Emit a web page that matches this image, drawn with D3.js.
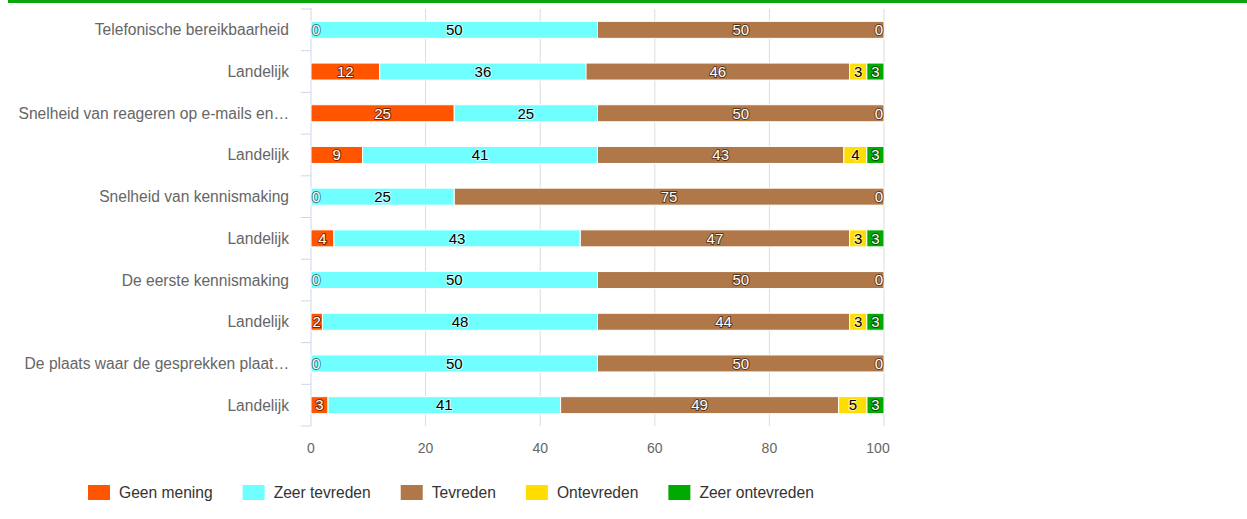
<!DOCTYPE html>
<html>
<head>
<meta charset="utf-8">
<script src="https://cdn.jsdelivr.net/npm/d3@7"></script>
<style>
  body { margin: 0; background: #fff; }
  svg { display: block; font-family: "Liberation Sans", Arial, sans-serif; }
</style>
</head>
<body>
<svg id="chart" width="1247" height="519"></svg>
<script>
// rows, top to bottom
const categories = [
  "Telefonische bereikbaarheid", "Landelijk",
  "Snelheid van reageren op e-mails en…", "Landelijk",
  "Snelheid van kennismaking", "Landelijk",
  "De eerste kennismaking", "Landelijk",
  "De plaats waar de gesprekken plaat…", "Landelijk"
];
const seriesNames = ["Geen mening", "Zeer tevreden", "Tevreden", "Ontevreden", "Zeer ontevreden"];
const seriesColors = ["#ff5500", "#70ffff", "#b07849", "#ffdd00", "#00aa00"];
const geenMening     = [0, 12, 25, 9, 0, 4, 0, 2, 0, 3];
const zeerTevreden   = [50, 36, 25, 41, 25, 43, 50, 48, 50, 41];
const tevreden       = [50, 46, 50, 43, 75, 47, 50, 44, 50, 49];
const ontevreden     = [0, 3, 0, 4, 0, 3, 0, 3, 0, 5];
const zeerOntevreden = [0, 3, 0, 3, 0, 3, 0, 3, 0, 3];
const xTicks = [0, 20, 40, 60, 80, 100];

const seriesValues = [geenMening, zeerTevreden, tevreden, ontevreden, zeerOntevreden];
const darkSeries = [true, false, true, false, true]; // white label text

const svg = d3.select("#chart");
const plot = {left: 311, right: 884, top: 9, bottom: 426};

// top green rule
svg.append("rect").attr("x", 8).attr("y", 0).attr("width", 1239).attr("height", 3).attr("fill", "#0aa50a");

const rows = categories.map((c, i) => {
  const r = {idx: i};
  seriesNames.forEach((s, k) => r[s] = seriesValues[k][i]);
  return r;
});
const stacked = d3.stack().keys(seriesNames).offset(d3.stackOffsetExpand)(rows);

const x = d3.scaleLinear().domain([0, 100]).range([plot.left, plot.right]);
const y = d3.scaleBand().domain(d3.range(categories.length)).range([plot.top, plot.bottom]);
const barH = 17;

// grid
svg.append("g").selectAll("line").data(xTicks.slice(1)).join("line")
  .attr("x1", d => x(d)).attr("x2", d => x(d))
  .attr("y1", plot.top).attr("y2", plot.bottom)
  .attr("stroke", "#dcdcdc").attr("stroke-width", 1);

// category axis
const yAxis = svg.append("g");
yAxis.append("line").attr("x1", plot.left).attr("x2", plot.left)
  .attr("y1", plot.top - 1).attr("y2", plot.bottom).attr("stroke", "#ccd6eb");
yAxis.selectAll("line.tk").data(d3.range(categories.length + 1)).join("line").attr("class", "tk")
  .attr("x1", plot.left - 10).attr("x2", plot.left)
  .attr("y1", d => plot.top + d * y.step()).attr("y2", d => plot.top + d * y.step())
  .attr("stroke", "#ccd6eb");
yAxis.selectAll("text").data(categories).join("text")
  .attr("x", 289).attr("y", (d, i) => y(i) + y.bandwidth() / 2)
  .attr("dy", "0.35em").attr("text-anchor", "end")
  .attr("fill", "#666").style("font-size", "15.6px").text(d => d);

// x axis labels
svg.append("g").selectAll("text").data(xTicks).join("text")
  .attr("x", d => d === 100 ? x(d) - 6 : x(d)).attr("y", 448).attr("dy", "0.35em")
  .attr("text-anchor", "middle").attr("fill", "#666").style("font-size", "14px")
  .text(d => d);

// bars
const barG = svg.append("g");
stacked.forEach((s, k) => {
  barG.selectAll(null).data(s).join("rect")
    .attr("x", d => x(d[0] * 100)).attr("width", d => Math.max(0, x(d[1] * 100) - x(d[0] * 100)))
    .attr("y", d => y(d.data.idx) + (y.bandwidth() - barH) / 2).attr("height", barH)
    .attr("fill", seriesColors[k]).attr("stroke", "#fff").attr("stroke-width", 1);
});

// data labels
const labels = [];
stacked.forEach((s, k) => {
  s.forEach(d => {
    const v = seriesValues[k][d.data.idx];
    const w = String(v).length * 8.4 + 2;
    let cx = x((d[0] + d[1]) / 2 * 100);
    cx = Math.max(plot.left + w / 2, Math.min(plot.right - w / 2, cx));
    labels.push({k, row: d.data.idx, v, cx});
  });
});
// drop labels overlapped by a later one at the same place
const shown = labels.filter(l => !labels.some(o => o.row === l.row && o.k > l.k && Math.abs(o.cx - l.cx) < 6));
svg.append("g").selectAll("text").data(shown).join("text")
  .attr("x", d => d.cx).attr("y", d => y(d.row) + y.bandwidth() / 2)
  .attr("dy", "0.35em").attr("text-anchor", "middle").style("font-size", "15px")
  .attr("fill", d => darkSeries[d.k] ? "#fff" : "#000")
  .attr("stroke", d => darkSeries[d.k] ? "rgba(0,0,0,0.55)" : "rgba(255,255,255,0.6)")
  .attr("stroke-width", 2).attr("stroke-linejoin", "round").attr("paint-order", "stroke")
  .text(d => d.v);

// legend
const leg = svg.append("g");
let lx = 88;
seriesNames.forEach((n, k) => {
  leg.append("rect").attr("x", lx).attr("y", 485).attr("width", 22).attr("height", 15).attr("fill", seriesColors[k]);
  const t = leg.append("text").attr("x", lx + 31).attr("y", 493).attr("dy", "0.35em")
    .attr("fill", "#333").style("font-size", "15.6px").text(n);
  lx += 31 + t.node().getComputedTextLength() + 30;
});
</script>
</body>
</html>
